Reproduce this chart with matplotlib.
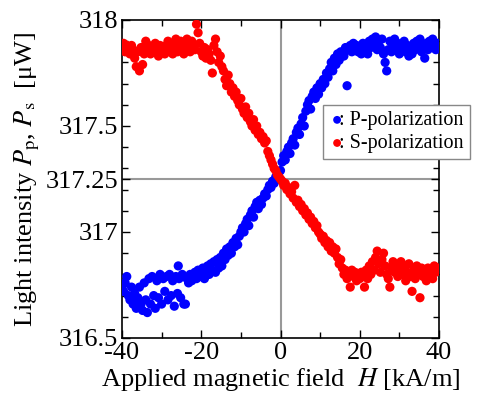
import matplotlib
matplotlib.use("Agg")
import matplotlib.pyplot as plt
from matplotlib.ticker import MultipleLocator

plt.rcParams['font.family'] = ['Liberation Serif', 'DejaVu Serif']
plt.rcParams['mathtext.fontset'] = 'stix'
plt.rcParams['axes.unicode_minus'] = False

# P-polarization (blue)
p_field = [-40, -39.6, -39.2, -38.8, -38.4, -38, -37.6, -37.2, -36.8, -36.4, -36, -35.6, -35.2, -34.8, -34.4,
           -34, -33.6, -33.2, -32.8, -32.4, -32, -31.6, -31.2, -30.8, -30.4, -30, -29.6, -29.2, -28.8, -28.4,
           -28, -27.6, -27.2, -26.8, -26.4, -26, -25.8, -25.6, -25.2, -24.8, -24.4, -24, -23.6, -23.2, -22.8,
           -22.4, -22, -21.6, -21.2, -20.8, -20.4, -20, -19.6, -19.2, -18.8, -18.4, -18, -17.6, -17.2, -16.8,
           -16.4, -16, -15.6, -15.2, -14.8, -14.4, -14, -13.6, -13.2, -12.8, -12.4, -12, -11.6, -11.2, -10.8,
           -10.4, -10, -9.6, -9.2, -8.8, -8.4, -8, -7.6, -7.2, -6.8, -6.4, -6, -5.6, -5.2, -4.8, -4.4, -4,
           -3.6, -3.2, -2.8, -2.4, -2, -1.6, -1.2, -0.8, -0.4, 0, 0.4, 0.8, 1.2, 1.6, 2, 2.4, 2.8, 3.2, 3.6,
           4, 4.4, 4.8, 5.2, 5.6, 6, 6.4, 6.8, 7.2, 7.6, 8, 8.4, 8.8, 9.2, 9.6, 10, 10.4, 10.8, 11.2, 11.6,
           12, 12.4, 12.8, 13.2, 13.6, 14, 14.4, 14.8, 15.2, 15.6, 16, 16.4, 16.8, 17.2, 17.6, 18, 18.4, 18.8,
           19.2, 19.6, 20, 20.4, 20.8, 21.2, 21.6, 22, 22.4, 22.8, 23.2, 23.6, 24, 24.4, 24.8, 25.2, 25.6, 26,
           26.4, 26.8, 27.2, 27.6, 28, 28.4, 28.8, 29.2, 29.6, 30, 30.4, 30.8, 31.2, 31.6, 32, 32.4, 32.8, 33.2,
           33.6, 34, 34.4, 34.8, 35.2, 35.6, 36, 36.4, 36.8, 37.2, 37.6, 38, 38.4, 38.8, 39.2, 39.6, 40]
p_power = [316.74, 316.72, 316.76, 316.79, 316.70, 316.68, 316.74, 316.66, 316.71, 316.64, 316.69, 316.74, 316.66,
           316.63, 316.76, 316.68, 316.62, 316.78, 316.66, 316.79, 316.70, 316.64, 316.77, 316.69, 316.80, 316.66,
           316.78, 316.72, 316.79, 316.68, 316.80, 316.70, 316.77, 316.65, 316.79, 316.71, 316.84, 316.78, 316.69,
           316.80, 316.66, 316.66, 316.78, 316.76, 316.80, 316.77, 316.79, 316.81, 316.78, 316.82, 316.79, 316.80,
           316.83, 316.78, 316.82, 316.84, 316.80, 316.85, 316.82, 316.86, 316.81, 316.87, 316.83, 316.88, 316.84,
           316.90, 316.87, 316.92, 316.89, 316.93, 316.90, 316.95, 316.93, 316.97, 316.94, 316.98, 317.00, 317.02,
           317.00, 317.04, 317.06, 317.03, 317.08, 317.10, 317.07, 317.12, 317.14, 317.11, 317.15, 317.13, 317.16,
           317.18, 317.17, 317.20, 317.22, 317.21, 317.24, 317.23, 317.26, 317.25, 317.28, 317.29, 317.33, 317.36,
           317.34, 317.38, 317.40, 317.37, 317.42, 317.44, 317.41, 317.47, 317.49, 317.46, 317.51, 317.54, 317.50,
           317.57, 317.60, 317.62, 317.58, 317.64, 317.66, 317.63, 317.68, 317.65, 317.70, 317.68, 317.72, 317.70,
           317.75, 317.73, 317.77, 317.80, 317.76, 317.82, 317.79, 317.84, 317.81, 317.85, 317.83, 317.83, 317.87,
           317.69, 317.86, 317.88, 317.85, 317.89, 317.86, 317.88, 317.85, 317.87, 317.84, 317.89, 317.86, 317.88,
           317.84, 317.90, 317.87, 317.91, 317.88, 317.92, 317.86, 317.90, 317.87, 317.91, 317.84, 317.80, 317.76,
           317.86, 317.90, 317.85, 317.88, 317.91, 317.86, 317.89, 317.84, 317.88, 317.86, 317.90, 317.85, 317.88,
           317.83, 317.87, 317.84, 317.89, 317.86, 317.90, 317.87, 317.91, 317.85, 317.88, 317.82, 317.89, 317.86,
           317.90, 317.87, 317.91, 317.88, 317.86, 317.89, 317.88]

# S-polarization (red)
s_field = [-40, -39.6, -39.2, -38.8, -38.4, -38, -37.6, -37.2, -36.8, -36.4, -36, -35.6, -35.2, -34.8, -34.4,
           -34, -33.6, -33.2, -32.8, -32.4, -32, -31.6, -31.2, -30.8, -30.4, -30, -29.6, -29.2, -28.8, -28.4,
           -28, -27.6, -27.2, -26.8, -26.4, -26, -25.6, -25.2, -24.8, -24.4, -24, -23.6, -23.2, -22.8, -22.4,
           -22, -21.6, -21.2, -20.8, -20.4, -20, -19.6, -19.2, -18.8, -18.4, -18, -17.6, -17.2, -16.8, -16.4,
           -16, -15.6, -15.2, -14.8, -14.4, -14, -13.6, -13.2, -12.8, -12.4, -12, -11.6, -11.2, -10.8, -10.4,
           -10, -9.6, -9.2, -8.8, -8.4, -8, -7.6, -7.2, -6.8, -6.4, -6, -5.6, -5.2, -4.8, -4.4, -4, -3.6, -3.2,
           -2.8, -2.4, -2, -1.6, -1.2, -0.8, -0.4, 0, 0.4, 0.8, 1.2, 1.6, 2, 2.4, 2.8, 3.2, 3.6, 4, 4.4, 4.8,
           5.2, 5.6, 6, 6.4, 6.8, 7.2, 7.6, 8, 8.4, 8.8, 9.2, 9.6, 10, 10.4, 10.8, 11.2, 11.6, 12, 12.4, 12.8,
           13.2, 13.6, 14, 14.4, 14.8, 15.2, 15.6, 16, 16.4, 16.8, 17.2, 17.6, 18, 18.4, 18.8, 19.2, 19.6, 20,
           20.4, 20.8, 21.2, 21.6, 22, 22.4, 22.8, 23.2, 23.6, 24, 24.4, 24.8, 25.2, 25.6, 26, 26.4, 26.8, 27.2,
           27.6, 28, 28.4, 28.8, 29.2, 29.6, 30, 30.4, 30.8, 31.2, 31.6, 32, 32.4, 32.8, 33.2, 33.6, 34, 34.4,
           34.8, 35.2, 35.6, 36, 36.4, 36.8, 37.2, 37.6, 38, 38.4, 38.8, 39.2, 39.6, 40]
s_power = [317.87, 317.89, 317.85, 317.88, 317.86, 317.84, 317.88, 317.86, 317.82, 317.78, 317.85, 317.76, 317.87,
           317.79, 317.84, 317.90, 317.86, 317.88, 317.84, 317.87, 317.85, 317.89, 317.86, 317.83, 317.88, 317.85,
           317.87, 317.84, 317.88, 317.90, 317.86, 317.89, 317.84, 317.87, 317.91, 317.85, 317.88, 317.90, 317.86,
           317.84, 317.89, 317.91, 317.87, 317.85, 317.90, 317.88, 317.86, 317.98, 317.94, 317.89, 317.85, 317.83,
           317.87, 317.82, 317.86, 317.84, 317.81, 317.75, 317.88, 317.91, 317.85, 317.80, 317.83, 317.78, 317.76,
           317.72, 317.69, 317.74, 317.70, 317.66, 317.68, 317.64, 317.66, 317.62, 317.60, 317.63, 317.58, 317.56,
           317.59, 317.54, 317.56, 317.52, 317.50, 317.53, 317.48, 317.50, 317.46, 317.47, 317.44, 317.45, 317.42,
           317.43, 317.38, 317.36, 317.34, 317.32, 317.30, 317.29, 317.27, 317.26, 317.25, 317.24, 317.22, 317.23,
           317.20, 317.21, 317.18, 317.19, 317.16, 317.22, 317.14, 317.15, 317.12, 317.13, 317.10, 317.11, 317.08,
           317.09, 317.06, 317.07, 317.04, 317.05, 317.02, 317.03, 317.00, 316.99, 316.97, 316.98, 316.95, 316.96,
           316.93, 316.95, 316.91, 316.93, 316.90, 316.92, 316.88, 316.85, 316.87, 316.83, 316.80, 316.82, 316.78,
           316.80, 316.74, 316.82, 316.79, 316.81, 316.77, 316.80, 316.78, 316.81, 316.79, 316.74, 316.82, 316.78,
           316.84, 316.80, 316.86, 316.82, 316.88, 316.91, 316.85, 316.81, 316.87, 316.90, 316.84, 316.80, 316.78,
           316.74, 316.83, 316.86, 316.81, 316.84, 316.79, 316.82, 316.86, 316.80, 316.83, 316.77, 316.81, 316.85,
           316.79, 316.72, 316.82, 316.78, 316.84, 316.80, 316.69, 316.83, 316.79, 316.81, 316.77, 316.83, 316.80,
           316.82, 316.78, 316.84, 316.81, 316.83, 316.82]

x_ticks = [-40, -20, 0, 20, 40]
x_ticklabels = ['-40', '-20', '0', '20', '40']
y_ticks = [316.5, 317, 317.25, 317.5, 318]
y_ticklabels = ['316.5', '317', '317.25', '317.5', '318']
series_labels = [': P-polarization', ': S-polarization']

fig = plt.figure(figsize=(4.82, 3.95), dpi=100)
ax = fig.add_axes([122/482, 1-338/395, (439-122)/482, (338-20)/395])

ax.axvline(0, color='#999999', lw=1.5, zorder=1)
ax.axhline(317.25, color='#999999', lw=1.5, zorder=1)

ax.scatter(p_field, p_power, s=44, color='#0000ff', edgecolors='none', label=series_labels[0], zorder=3)
ax.scatter(s_field, s_power, s=44, color='#ff0000', edgecolors='none', label=series_labels[1], zorder=3)

ax.set_xlim(-40, 40)
ax.set_ylim(316.5, 318)
ax.set_xticks(x_ticks)
ax.set_xticklabels(x_ticklabels)
ax.set_yticks(y_ticks)
ax.set_yticklabels(y_ticklabels)
ax.xaxis.set_minor_locator(MultipleLocator(10))
ax.yaxis.set_minor_locator(MultipleLocator(0.1))
ax.tick_params(which='both', direction='in', top=True, right=True, labelsize=19)
ax.tick_params(axis='y', pad=3)
ax.tick_params(axis='x', pad=3)
ax.tick_params(which='major', length=6, width=1)
ax.tick_params(which='minor', length=4, width=1)
for sp in ax.spines.values():
    sp.set_linewidth(1.2)

ax.set_xlabel('Applied magnetic field  $H$ [kA/m]', fontsize=19, labelpad=1)
ax.set_ylabel('Light intensity $P_\\mathrm{p}$, $P_\\mathrm{s}$  [μW]', fontsize=19, labelpad=2)

leg = ax.legend(loc='upper left', bbox_to_anchor=(323/482, 1-105/395), bbox_transform=fig.transFigure,
                fontsize=14.5, handletextpad=-0.3, handlelength=0.8, markerscale=0.85, borderpad=0.3,
                labelspacing=0.2, fancybox=False, framealpha=1, edgecolor='#888888', borderaxespad=0)
leg.get_frame().set_linewidth(1.0)

fig.savefig('out.png', dpi=100)
